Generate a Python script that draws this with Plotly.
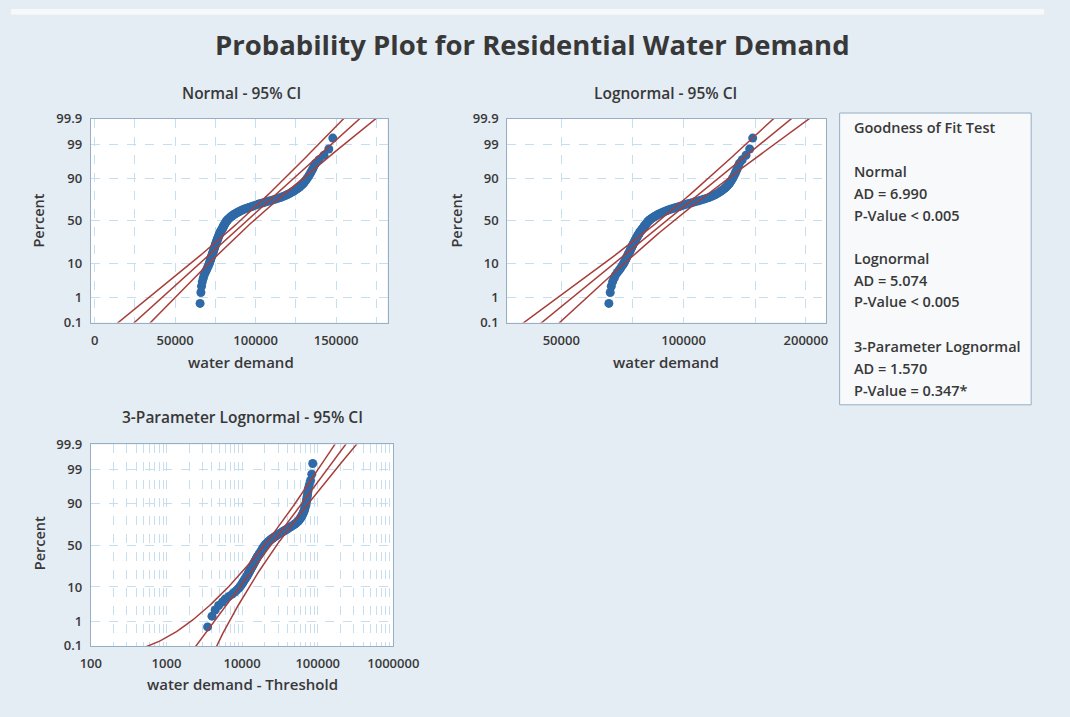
import math
from statistics import NormalDist
import plotly.graph_objects as go

# ---------------- data ----------------
water_demand = [
    65500, 66000, 66400, 66900, 67500, 68000, 68700, 69400, 70000, 70500,
    71000, 71400, 71700, 72000, 72300, 72500, 72800, 73100, 73300, 73600,
    73800, 74000, 74200, 74400, 74600, 74800, 75000, 75200, 75400, 75600,
    75800, 76000, 76200, 76400, 76600, 76800, 77000, 77200, 77400, 77600,
    77800, 78000, 78200, 78500, 78800, 79000, 79300, 79500, 79800, 80000,
    80200, 80500, 80700, 81000, 81200, 81500, 81800, 82100, 82500, 82900,
    83400, 83900, 84400, 84900, 85500, 86100, 86800, 87600, 88400, 89200,
    90100, 91000, 92000, 93200, 94500, 95800, 97200, 98600, 100000, 101500,
    103000, 104800, 106600, 108400, 110200, 112000, 113800, 115500, 117000, 118500,
    119800, 121000, 122100, 123200, 124300, 125300, 126300, 127300, 128200, 129000,
    129800, 130500, 131200, 131900, 132600, 133300, 134000, 134700, 135500, 136300,
    137300, 139500, 142500, 145500, 148000,
]

tick_percent = [0.1, 1, 10, 50, 90, 99, 99.9]
tick_labels = ["0.1", "1", "10", "50", "90", "99", "99.9"]

normal_x_ticks = [0, 50000, 100000, 150000]
lognormal_x_ticks = [50000, 100000, 200000]
lognormal_x_minor = [75000, 150000]
lognormal3_x_ticks = [100, 1000, 10000, 100000, 1000000]

# fitted parameters
normal_mu, normal_sigma = 94600, 22650
lognormal_loc, lognormal_scale = 11.416, 0.2288
threshold = 62000
lognormal3_loc, lognormal3_scale = 10.086, 0.737
threshold_half_ci = 1200

fit_labels = [
    ("Goodness of Fit Test", 121.7),
    ("Normal", 166.7), ("AD = 6.990", 189.2), ("P-Value &lt; 0.005", 211.7),
    ("Lognormal", 255.5), ("AD = 5.074", 278.0), ("P-Value &lt; 0.005", 300.5),
    ("3-Parameter Lognormal", 346.5), ("AD = 1.570", 369.0), ("P-Value = 0.347*", 391.5),
]

# ---------------- derived ----------------
ND = NormalDist()
n = len(water_demand)
percent = [(i + 1 - 0.3) / (n + 0.4) * 100 for i in range(n)]
z_pts = [ND.inv_cdf(p / 100) for p in percent]
tick_z = [ND.inv_cdf(p / 100) for p in tick_percent]
zmax = ND.inv_cdf(0.999)
z_grid = [-3.5 + 0.05 * k for k in range(141)]
Z975 = 1.96

def half(zz, s):
    return Z975 * s * math.sqrt((1 + zz * zz / 2) / n)

W, H = 1070, 717
def px(x):
    return x / W
def py(y):
    return 1 - y / H

TXT = "#383838"
FONT = "Open Sans"
PT = "#2f69a6"
LN = "#a83e3a"
GRID = "#c6dff0"
BORDER = "#98aec4"

fig = go.Figure()

def add_panel(idx, xs_pts, centre, lower, upper):
    xa = "x" if idx == 1 else f"x{idx}"
    ya = "y" if idx == 1 else f"y{idx}"
    fig.add_trace(go.Scatter(x=xs_pts, y=z_pts, mode="markers", xaxis=xa, yaxis=ya,
                             marker=dict(size=9, color=PT), showlegend=False, hoverinfo="skip"))
    for xs, zs in (lower, centre, upper):
        fig.add_trace(go.Scatter(x=xs, y=zs, mode="lines", xaxis=xa, yaxis=ya,
                                 line=dict(color=LN, width=1.5), showlegend=False, hoverinfo="skip"))

# Normal
c = ([normal_mu + z * normal_sigma for z in z_grid], z_grid)
lo = ([normal_mu + z * normal_sigma - half(z, normal_sigma) for z in z_grid], z_grid)
up = ([normal_mu + z * normal_sigma + half(z, normal_sigma) for z in z_grid], z_grid)
add_panel(1, water_demand, c, lo, up)

# Lognormal
c = ([math.exp(lognormal_loc + z * lognormal_scale) for z in z_grid], z_grid)
lo = ([math.exp(lognormal_loc + z * lognormal_scale - half(z, lognormal_scale)) for z in z_grid], z_grid)
up = ([math.exp(lognormal_loc + z * lognormal_scale + half(z, lognormal_scale)) for z in z_grid], z_grid)
add_panel(2, water_demand, c, lo, up)

# 3-parameter lognormal
c3 = ([math.exp(lognormal3_loc + z * lognormal3_scale) for z in z_grid], z_grid)
lo_x, lo_z = [], []
for z in z_grid:
    v = math.exp(lognormal3_loc + z * lognormal3_scale - half(z, lognormal3_scale)) - threshold_half_ci
    if v > 60:
        lo_x.append(v); lo_z.append(z)
up3 = ([math.exp(lognormal3_loc + z * lognormal3_scale + half(z, lognormal3_scale)) + threshold_half_ci
        for z in z_grid], z_grid)
add_panel(3, [v - threshold for v in water_demand], c3, (lo_x, lo_z), up3)

tickfont = dict(family=FONT, size=13, color=TXT, weight=600)

def yaxis(dom):
    return dict(domain=dom, range=[-zmax, zmax], tickvals=tick_z, ticktext=tick_labels,
                showgrid=True, gridcolor=GRID, griddash="dash", gridwidth=1,
                zeroline=False, showline=True, linecolor=BORDER, mirror=True,
                tickfont=tickfont, ticks="", ticklabelstandoff=5, fixedrange=True)

ydom_top = [py(321.7), py(112.7)]
ydom_bot = [py(653.3), py(446.7)]

fig.update_layout(
    width=W, height=H, margin=dict(l=0, r=0, t=0, b=0), autosize=False,
    paper_bgcolor="#e4ecf4", plot_bgcolor="#ffffff",
    font=dict(family=FONT, color=TXT),
    xaxis=dict(domain=[px(82.7), px(390)], range=[-2400, 182000], tickvals=normal_x_ticks,
               ticktext=[str(v) for v in normal_x_ticks],
               showgrid=True, gridcolor=GRID, griddash="dash",
               minor=dict(dtick=25000, showgrid=True, gridcolor=GRID, griddash="dash", ticks=""),
               zeroline=False, showline=True, linecolor=BORDER, mirror=True,
               tickfont=tickfont, ticklabelstandoff=6, anchor="y"),
    yaxis=dict(**yaxis(ydom_top), anchor="x"),
    xaxis2=dict(domain=[px(514), px(844.3)], type="log", range=[4.566, 5.351],
                tickvals=lognormal_x_ticks, ticktext=[str(v) for v in lognormal_x_ticks],
                showgrid=True, gridcolor=GRID, griddash="dash",
                minor=dict(tickvals=lognormal_x_minor, showgrid=True, gridcolor=GRID, griddash="dash", ticks=""),
                zeroline=False, showline=True, linecolor=BORDER, mirror=True,
                tickfont=tickfont, ticklabelstandoff=6, anchor="y2"),
    yaxis2=dict(**yaxis(ydom_top), anchor="x2"),
    xaxis3=dict(domain=[px(82.7), px(396)], type="log", range=[2, 6],
                tickvals=lognormal3_x_ticks, ticktext=[str(v) for v in lognormal3_x_ticks],
                showgrid=True, gridcolor=GRID, griddash="dash",
                minor=dict(dtick="D1", showgrid=True, gridcolor=GRID, griddash="dash", ticks=""),
                zeroline=False, showline=True, linecolor=BORDER, mirror=True,
                tickfont=tickfont, ticklabelstandoff=6, anchor="y3"),
    yaxis3=dict(**yaxis(ydom_bot), anchor="x3"),
)

ann = []
def text(t, x, y, size, weight=600, angle=0, xanchor="center"):
    ann.append(dict(text=t, x=px(x), y=py(y), xref="paper", yref="paper",
                    showarrow=False, xanchor=xanchor, yanchor="middle", textangle=angle,
                    font=dict(family=FONT, size=size, color=TXT, weight=weight)))

text("Probability Plot for Residential Water Demand", 540, 36, 27.5, weight=700)
text("Normal - 95% CI", 238.5, 86, 15.5)
text("Lognormal - 95% CI", 678, 86, 15.5)
text("3-Parameter Lognormal - 95% CI", 240, 418, 15.5)
text("water demand", 238, 362, 15)
text("water demand", 678, 362, 15)
text("water demand - Threshold", 240, 692, 15)
text("Percent", 29, 217, 14.5, angle=-90)
text("Percent", 461, 217, 14.5, angle=-90)
text("Percent", 29, 548, 14.5, angle=-90)
for t, y in fit_labels:
    text(t, 871, y, 14.5, xanchor="left")

fig.update_layout(annotations=ann, shapes=[
    dict(type="rect", xref="paper", yref="paper", x0=0, x1=1, y0=py(6), y1=1,
         fillcolor="#f6f8fa", line=dict(width=0), layer="below"),
    dict(type="rect", xref="paper", yref="paper", x0=px(858.3), x1=px(1056.7), y0=py(406), y1=py(106.7),
         fillcolor="#f7f9fb", line=dict(color=BORDER, width=1), layer="below"),
])

fig.write_html("out.html")
